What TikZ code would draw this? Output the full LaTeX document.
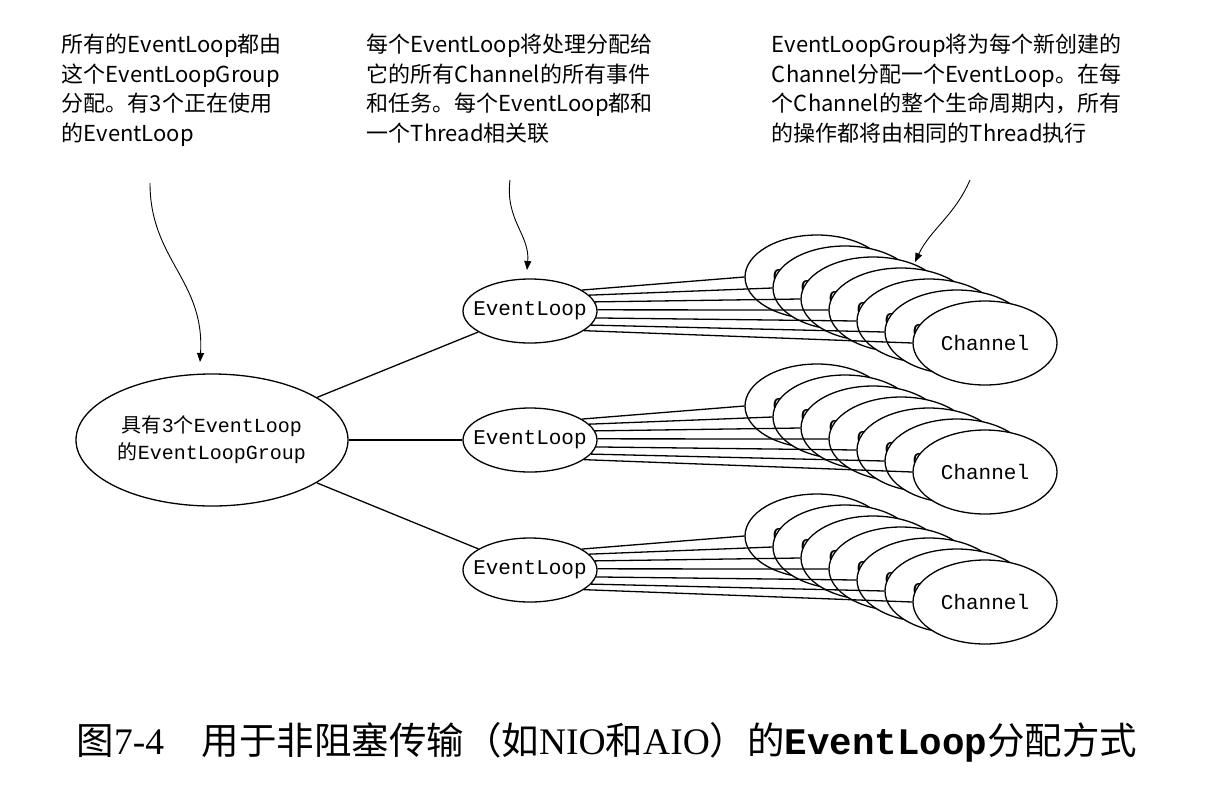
\documentclass[tikz,border=0pt]{standalone}
\usepackage{fontspec}
\setmainfont{Noto Sans CJK SC}
\newfontfamily\cjk{Noto Sans CJK SC}
\newfontfamily\lmono{Liberation Mono}
\newfontfamily\lserif{Liberation Serif}
\usetikzlibrary{shapes.geometric,arrows.meta}
\begin{document}
\begin{tikzpicture}[x=1pt,y=-1pt,line width=1.3pt,
  ell/.style={ellipse,draw,fill=white,line width=1.3pt,inner sep=0pt,font=\lmono\fontsize{21}{22}\selectfont},
  el/.style={ell,inner xsep=-11pt,minimum width=134pt,minimum height=64pt},
  ch/.style={ell,minimum width=144pt,minimum height=84pt},
  note/.style={anchor=north west,align=left,font=\cjk\fontsize{22}{29.5}\selectfont},
  pt/.style={line width=0.9pt,-{Triangle[length=9pt,width=7pt]}}]
\useasboundingbox (0,0) rectangle (1206,796);
\node[note] (n1) at (58,30) {所有的EventLoop都由\\这个EventLoopGroup\\分配。有3个正在使用\\的EventLoop};
\node[note] (n2) at (363,30) {每个EventLoop将处理分配给\\它的所有Channel的所有事件\\和任务。每个EventLoop都和\\一个Thread相关联};
\node[note] (n3) at (768,30) {EventLoopGroup将为每个新创建的\\Channel分配一个EventLoop。在每\\个Channel的整个生命周期内，所有\\的操作都将由相同的Thread执行};
\node[ell,minimum width=272pt,minimum height=132pt,align=center,font=\lmono\fontsize{20}{27}\selectfont] (g) at (212,440) {{\cjk 具有}3{\cjk 个}EventLoop\\{\cjk 的}EventLoopGroup};
\foreach \i/\y in {1/311,2/440,3/570}{
  \node[el] (e\i) at (530,\y) {EventLoop};
  \draw (g) -- (e\i);
  \foreach \k in {0,...,6}{
    \ifnum\k=6
      \node[ch] (c\i\k) at ({817+28*\k},{\y-34+11*\k}) {Channel};
    \else
      \node[ch] (c\i\k) at ({817+28*\k},{\y-34+11*\k}) {};
      \node[anchor=west,inner sep=0pt,font=\lmono\fontsize{21}{22}\selectfont] (t\i\k) at ([xshift=-45pt]c\i\k.center) {C};
    \fi
  }
  \foreach \k in {0,...,6}{
    \draw (e\i.{22-7*\k}) -- (c\i\k.west);
  }
}
\coordinate (a1) at (150,183);
\coordinate (a2) at (510,180);
\coordinate (a3) at (970,180);
\draw[pt] (a1) .. controls (150,260) and (205,280) .. (200,362);
\draw[pt] (a2) .. controls (505,220) and (530,235) .. (527,270);
\draw[pt] (a3) .. controls (955,215) and (930,230) .. (915,262);
\node (cap) at (607,742) {\fontsize{37.5}{40}\selectfont{\cjk 图}{\lserif 7-4}\hspace{1em}{\cjk 用于非阻塞传输（如}{\lserif NIO}{\cjk 和}{\lserif AIO}{\cjk ）的}{\lmono\bfseries EventLoop}{\cjk 分配方式}};
\end{tikzpicture}
\end{document}
